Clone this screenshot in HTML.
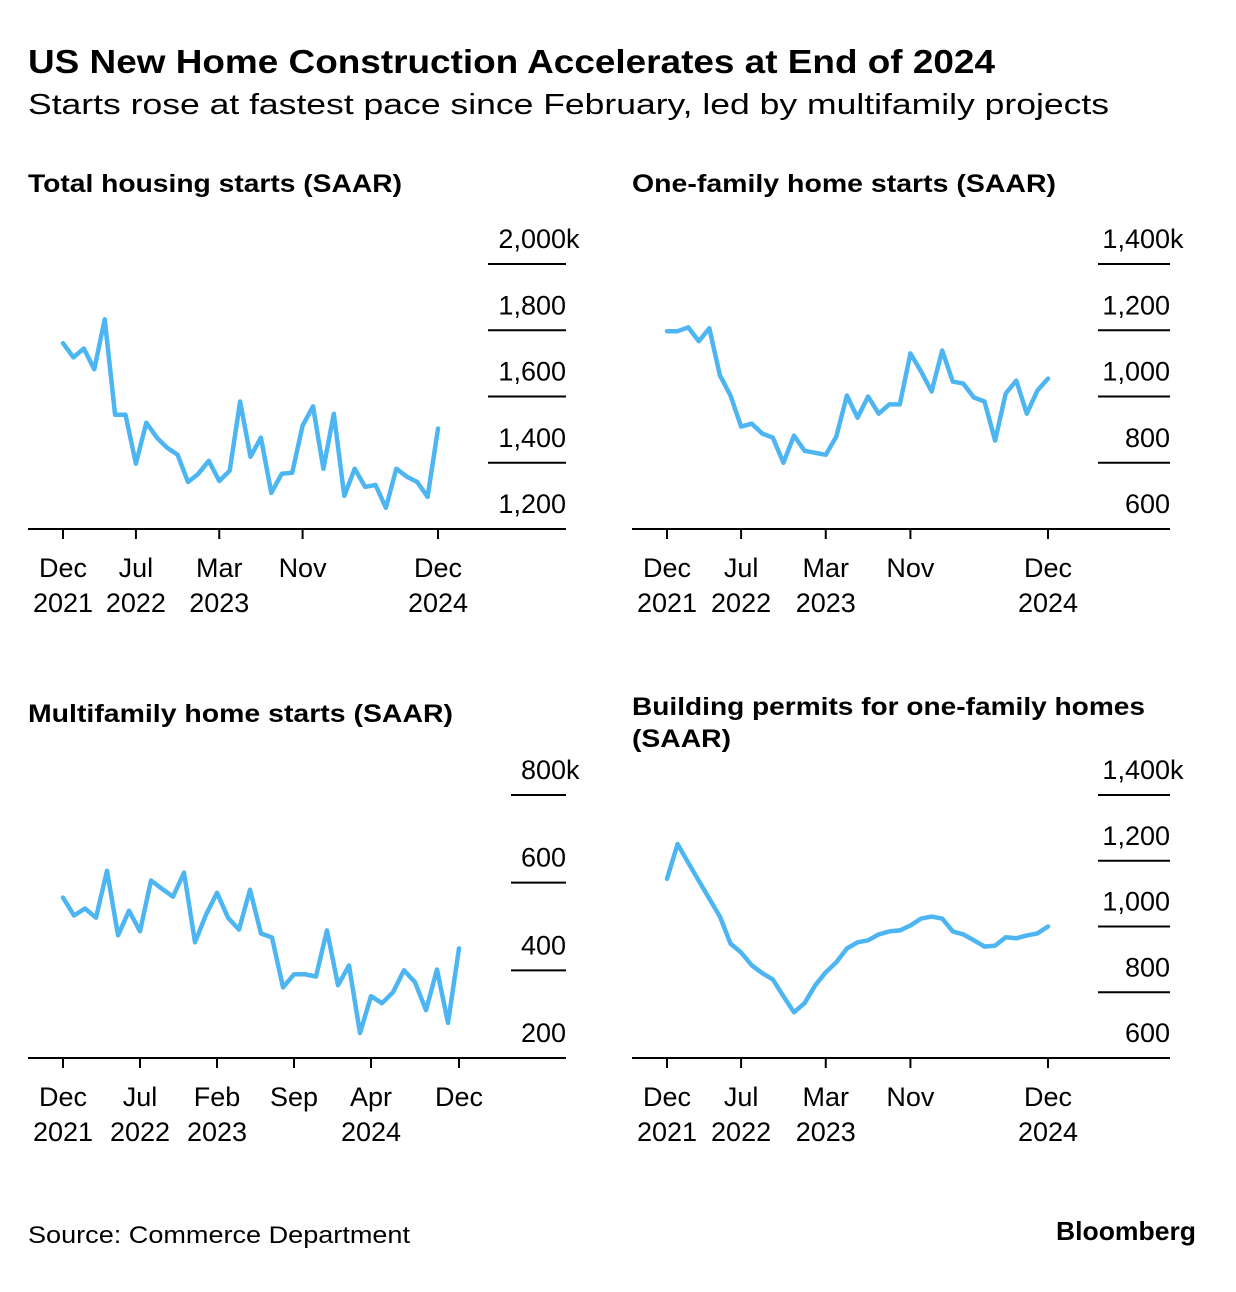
<!DOCTYPE html>
<html><head><meta charset="utf-8"><style>
body{margin:0;background:#fff;}
svg{display:block;font-family:"Liberation Sans",Arial,sans-serif;}
</style></head><body>
<svg id="c" width="1236" height="1292" viewBox="0 0 1236 1292">
<text x="28" y="73" font-size="33" font-weight="bold" textLength="967" lengthAdjust="spacingAndGlyphs" fill="#000">US New Home Construction Accelerates at End of 2024</text>
<text x="28" y="114" font-size="29" textLength="1081" lengthAdjust="spacingAndGlyphs" fill="#000">Starts rose at fastest pace since February, led by multifamily projects</text>
<text x="28" y="1243" font-size="24" textLength="382" lengthAdjust="spacingAndGlyphs" fill="#000">Source: Commerce Department</text>
<text x="1056" y="1240" font-size="26" font-weight="bold" textLength="140" lengthAdjust="spacingAndGlyphs" fill="#000">Bloomberg</text>
</svg>
<script>
const months = 37;
const totalStarts = [1761,1718,1745,1682,1833,1545,1545,1397,1521,1476,1445,1424,1342,1367,1406,1345,1376,1585,1418,1476,1309,1367,1370,1512,1570,1382,1548,1300,1382,1327,1333,1264,1382,1358,1342,1297,1503];
const oneFamily = [1197,1197,1209,1167,1206,1064,1003,909,918,888,876,800,882,836,830,824,879,1003,936,1000,948,976,976,1130,1076,1015,1139,1045,1039,997,985,867,1009,1048,948,1018,1054];
const multiFamily = [566,525,541,520,627,480,536,489,605,586,568,623,464,527,577,520,493,584,484,475,361,391,391,386,491,366,411,257,341,325,350,400,373,309,402,280,450];
const permits = [1145,1251,1194,1139,1085,1030,948,921,882,858,839,788,739,767,821,861,891,933,952,958,976,985,988,1003,1024,1030,1024,985,976,958,939,942,967,964,973,979,1000];
const ticks1 = ["1,200","1,400","1,600","1,800","2,000"];
const ticks2 = ["600","800","1,000","1,200","1,400"];
const ticks3 = ["200","400","600","800"];
const xA = [[0,"Dec","2021"],[7,"Jul","2022"],[15,"Mar","2023"],[23,"Nov",""],[36,"Dec","2024"]];
const xB = [[0,"Dec","2021"],[7,"Jul","2022"],[14,"Feb","2023"],[21,"Sep",""],[28,"Apr","2024"],[36,"Dec",""]];

const NS="http://www.w3.org/2000/svg";
const svg=document.getElementById('c');
function mk(tag,attrs,parent){const e=document.createElementNS(NS,tag);for(const k in attrs)e.setAttribute(k,attrs[k]);(parent||svg).appendChild(e);return e;}

function panel(cfg){
  const g=mk('g',{});
  
  
  cfg.title.forEach((t,i)=>{
    const tt=mk('text',{x:cfg.px,y:cfg.ty+i*32,'font-size':25,'font-weight':'bold',fill:'#000',textLength:cfg.tl[i],lengthAdjust:'spacingAndGlyphs'},g);
    tt.textContent=t;
    
    
  });
  const xs=i=>cfg.x0+(cfg.x1-cfg.x0)*i/36;
  const ys=v=>cfg.yBase-(v-cfg.vMin)/(cfg.vMax-cfg.vMin)*(cfg.yBase-cfg.yTop);
  const n=cfg.ticks.length;
  cfg.ticks.forEach((lab,i)=>{
    const v=cfg.vMin+(cfg.vMax-cfg.vMin)*i/(n-1);
    const y=ys(v);
    if(i>0){
      const l=mk('line',{x1:cfg.gx,x2:cfg.right,y1:y,y2:y,stroke:'#000','stroke-width':2},g);
      
      
    }
    const t=mk('text',{x:cfg.right,y:y-16,'font-size':27,'text-anchor':'end',fill:'#000'},g);
    t.textContent=lab;
    
    
    if(i===n-1){
      const k=mk('text',{x:cfg.right,y:y-16,'font-size':27,fill:'#000'},g);
      k.textContent='k';
      
      
    }
  });
  const b=mk('line',{x1:cfg.px,x2:cfg.right,y1:cfg.yBase,y2:cfg.yBase,stroke:'#000','stroke-width':2},g);
  
  
  cfg.xt.forEach(([m,a,bb])=>{
    const x=xs(m);
    const tk=mk('line',{x1:x,x2:x,y1:cfg.yBase,y2:cfg.yBase+10,stroke:'#000','stroke-width':2},g);
    
    
    const t=mk('text',{x:x,y:cfg.yBase+48,'font-size':27,'text-anchor':'middle',fill:'#000'},g);
    t.textContent=a;
    
    
    if(bb){const t2=mk('text',{x:x,y:cfg.yBase+83,'font-size':27,'text-anchor':'middle',fill:'#000'},g);
    t2.textContent=bb;
    
    }
  });
  const d=cfg.data.map((v,i)=>(i?'L':'M')+xs(i).toFixed(1)+','+ys(v).toFixed(1)).join('');
  const p=mk('path',{d:d,fill:'none',stroke:'#4DB6F2','stroke-width':4.5,'stroke-linejoin':'round','stroke-linecap':'round'},g);
  
  
}
panel({name:'total-starts-panel',title:['Total housing starts (SAAR)'],tl:[374],px:28,ty:192,x0:63,x1:438,gx:488,right:566,yTop:264,yBase:529,vMin:1200,vMax:2000,ticks:ticks1,xt:xA,data:totalStarts});
panel({name:'one-family-panel',title:['One-family home starts (SAAR)'],tl:[424],px:632,ty:192,x0:667,x1:1048,gx:1098,right:1170,yTop:264,yBase:529,vMin:600,vMax:1400,ticks:ticks2,xt:xA,data:oneFamily});
panel({name:'multifamily-panel',title:['Multifamily home starts (SAAR)'],tl:[425],px:28,ty:722,x0:63,x1:459,gx:511,right:566,yTop:795,yBase:1058,vMin:200,vMax:800,ticks:ticks3,xt:xB,data:multiFamily});
panel({name:'permits-panel',title:['Building permits for one-family homes','(SAAR)'],tl:[513,99],px:632,ty:715,x0:667,x1:1048,gx:1098,right:1170,yTop:795,yBase:1058,vMin:600,vMax:1400,ticks:ticks2,xt:xA,data:permits});
</script>
</body></html>
